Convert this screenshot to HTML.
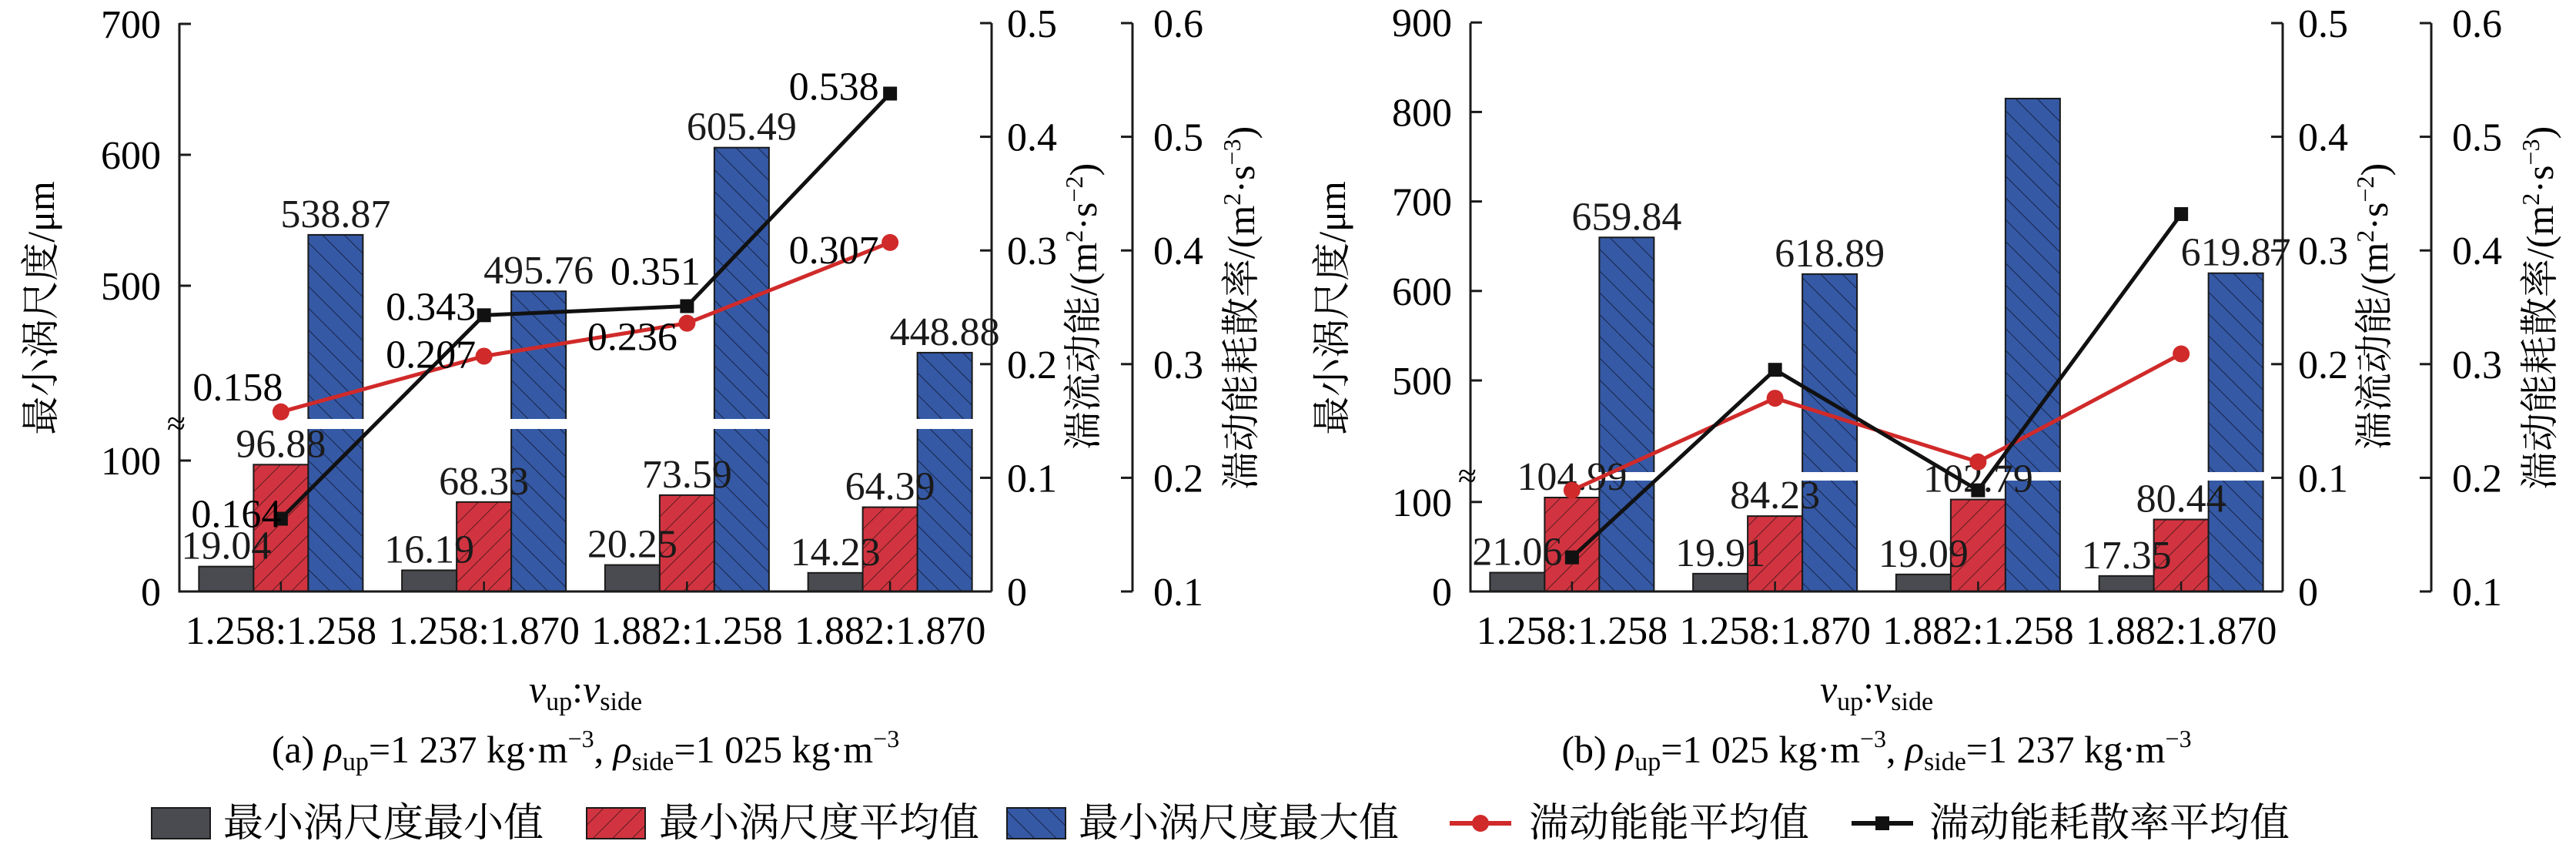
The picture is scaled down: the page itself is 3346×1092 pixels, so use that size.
<!DOCTYPE html>
<html><head><meta charset="utf-8"><style>
html,body{margin:0;padding:0;background:#fff;}
svg{display:block;font-family:"Liberation Serif","Noto Serif CJK SC",serif;}
.cjk{font-family:"Liberation Serif","Noto Serif CJK SC","Noto Sans CJK SC",serif;}
</style></head><body>
<svg id="chart" width="3346" height="1092" viewBox="0 0 3346 1092" xmlns="http://www.w3.org/2000/svg">
<defs>
<pattern id="hatchRed" patternUnits="userSpaceOnUse" width="18" height="18" patternTransform="rotate(45)"><rect width="18" height="18" fill="#d13440"/><line x1="0" y1="0" x2="0" y2="18" stroke="#3a1518" stroke-width="1.6"/></pattern>
<pattern id="hatchBlue" patternUnits="userSpaceOnUse" width="20" height="20" patternTransform="rotate(-45)"><rect width="20" height="20" fill="#3559a5"/><line x1="0" y1="0" x2="0" y2="20" stroke="#101830" stroke-width="1.6"/></pattern>
</defs>
<g id="layer"></g>
</svg>
<script>
const categories = ["1.258:1.258","1.258:1.870","1.882:1.258","1.882:1.870"];
const aMin = [19.04,16.19,20.25,14.23];
const aMean = [96.88,68.33,73.59,64.39];
const aMax = [538.87,495.76,605.49,448.88];
const aTke = [0.158,0.207,0.236,0.307];
const aDiss = [0.164,0.343,0.351,0.538];
const bMin = [21.06,19.91,19.09,17.35];
const bMean = [104.99,84.23,102.79,80.44];
const bMax = [659.84,618.89,815,619.87];
const bTke = [0.089,0.170,0.114,0.209];
const bDiss = [0.130,0.295,0.189,0.432];
const aLeftTicks = [0,100,500,600,700];
const bLeftTicks = [0,100,500,600,700,800,900];
const tkeTicks = [0,0.1,0.2,0.3,0.4,0.5];
const dissTicks = [0.1,0.2,0.3,0.4,0.5,0.6];

const NS="http://www.w3.org/2000/svg";
const layer=document.getElementById('layer');
function mk(tag,attrs,parent){const e=document.createElementNS(NS,tag);for(const a in attrs)e.setAttribute(a,attrs[a]);(parent||layer).appendChild(e);return e;}

function panel(cfg){
  const g=mk('g',{});
  
  
  const base=768, L=cfg.xL, R=cfg.xR;
  const k=cfg.k/100, y500=cfg.y500;
  const yLeft=v=> v<=cfg.lowMax ? base-v*k : y500-(v-500)*k;
  const yTke=v=> base-(v/0.1)*147.6;
  const yDiss=v=> base-((v-0.1)/0.1)*147.6;
  const gw=(R-L)/4;
  const cx=i=>L+gw*(i+0.5);
  const bw=71;
  const series=[[cfg.min,'#4a4b50','min-bar'],[cfg.mean,'url(#hatchRed)','mean-bar'],[cfg.max,'url(#hatchBlue)','max-bar']];
  series.forEach((s,si)=>{
    s[0].forEach((v,i)=>{
      const x=cx(i)+(si-1)*bw-bw/2;
      const y=yLeft(v);
      const r=mk('rect',{x:x,y:y,width:bw,height:base-y,fill:s[1],stroke:'#1a1a1a','stroke-width':2},g);
      
      
    });
  });
  cfg.max.forEach((v,i)=>{
    if(v>cfg.lowMax){
      const x=cx(i)+bw-bw/2;
      const band=mk('rect',{x:x-2,y:cfg.brTop,width:bw+4,height:cfg.brBot-cfg.brTop,fill:'#fff'},g);
      
      
    }
  });
  const ax=mk('path',{d:`M${L},30 V${base} H${R} M${R},30 V${base} M${cfg.x2},30 V${base}`,stroke:'#1a1a1a','stroke-width':3,fill:'none'},g);
  
  
  const brk=mk('text',{x:L-4,y:(cfg.brTop+cfg.brBot)/2+14,'font-size':44,'text-anchor':'middle'},g);
  brk.textContent='≈';
  
  
  cfg.leftTicks.forEach(v=>{
    const y=yLeft(v);
    mk('line',{x1:L,x2:L+15,y1:y,y2:y,stroke:'#1a1a1a','stroke-width':3},g);
    const t=mk('text',{x:L-24,y:y+18,'font-size':52,'text-anchor':'end'},g);
    t.textContent=v;
    
    
  });
  tkeTicks.forEach(v=>{
    const y=yTke(v);
    mk('line',{x1:R-15,x2:R,y1:y,y2:y,stroke:'#1a1a1a','stroke-width':3},g);
    const t=mk('text',{x:R+20,y:y+18,'font-size':52},g);
    t.textContent=String(v);
    
    
  });
  dissTicks.forEach(v=>{
    const y=yDiss(v);
    mk('line',{x1:cfg.x2-15,x2:cfg.x2,y1:y,y2:y,stroke:'#1a1a1a','stroke-width':3},g);
    const t=mk('text',{x:cfg.x2+27,y:y+18,'font-size':52},g);
    t.textContent=v.toFixed(1);
    
    
  });
  categories.forEach((c,i)=>{
    mk('line',{x1:cx(i),x2:cx(i),y1:base,y2:base-13,stroke:'#1a1a1a','stroke-width':2.5},g);
    const t=mk('text',{x:cx(i),y:836,'font-size':52,'text-anchor':'middle'},g);
    t.textContent=c;
    
    
  });
  series.forEach((s,si)=>{
    s[0].forEach((v,i)=>{
      if(cfg.hideLabel && si===2 && i===cfg.hideLabel-1) return;
      const t=mk('text',{x:cx(i)+(si-1)*bw,y:yLeft(v)-10,'font-size':52,'text-anchor':'middle',fill:'#1a1a1a'},g);
      t.textContent=v.toFixed(2);
      
      
    });
  });
  const lines=[[cfg.tke,yTke,'#d02a2a','tke'],[cfg.diss,yDiss,'#111','dissipation']];
  lines.forEach(ls=>{
    const pts=ls[0].map((v,i)=>cx(i)+','+ls[1](v)).join(' ');
    const pl=mk('polyline',{points:pts,fill:'none',stroke:ls[2],'stroke-width':5},g);
    
    
    ls[0].forEach((v,i)=>{
      const y=ls[1](v);
      let m;
      if(ls[3]==='tke') m=mk('circle',{cx:cx(i),cy:y,r:11,fill:ls[2]},g);
      else m=mk('rect',{x:cx(i)-9,y:y-9,width:18,height:18,fill:ls[2]},g);
      
      
    });
  });
  if(cfg.lineLabels){
    const offT=[[-56,-33],[-69,-3],[-71,17],[-73,9]];
    const offD=[[-58,-7],[-69,-12],[-41,-46],[-73,-10]];
    cfg.tke.forEach((v,i)=>{
      const t=mk('text',{x:cx(i)+offT[i][0],y:yTke(v)+offT[i][1]+18,'font-size':52,'text-anchor':'middle'},g);
      t.textContent=v.toFixed(3);
      
      
    });
    cfg.diss.forEach((v,i)=>{
      const t=mk('text',{x:cx(i)+offD[i][0],y:yDiss(v)+offD[i][1]+18,'font-size':52,'text-anchor':'middle'},g);
      t.textContent=v.toFixed(3);
      
      
    });
  }
  const mid=(L+R)/2;
  const lt=mk('text',{transform:`translate(${cfg.ltx},400) rotate(-90)`,'font-size':50,'text-anchor':'middle',class:'cjk'},g);
  lt.textContent='最小涡尺度/μm';
  
  
  const r1=mk('text',{transform:`translate(${R+136},398) rotate(-90)`,'font-size':50,'text-anchor':'middle',class:'cjk'},g);
  r1.innerHTML='湍流动能/(m<tspan dy="-18" font-size="32">2</tspan><tspan dy="18">·s</tspan><tspan dy="-18" font-size="32">−2</tspan><tspan dy="18">)</tspan>';
  
  
  const r2=mk('text',{transform:`translate(${cfg.x2+158},400) rotate(-90)`,'font-size':50,'text-anchor':'middle',class:'cjk'},g);
  r2.innerHTML='湍动能耗散率/(m<tspan dy="-18" font-size="32">2</tspan><tspan dy="18">·s</tspan><tspan dy="-18" font-size="32">−3</tspan><tspan dy="18">)</tspan>';
  
  
  const xt=mk('text',{x:mid,y:912,'font-size':50,'text-anchor':'middle'},g);
  xt.innerHTML='<tspan font-style="italic">v</tspan><tspan font-size="34" dy="10">up</tspan><tspan dy="-10">:</tspan><tspan font-style="italic">v</tspan><tspan font-size="34" dy="10">side</tspan>';
  
  
  const cp=mk('text',{x:mid,y:990,'font-size':50,'text-anchor':'middle'},g);
  cp.innerHTML=cfg.caption;
  
  
}
panel({name:'panel-a',xL:233,xR:1288,x2:1471,k:170,y500:371,lowMax:130,brTop:544,brBot:557,
  min:aMin,mean:aMean,max:aMax,tke:aTke,diss:aDiss,leftTicks:aLeftTicks,lineLabels:true,ltx:70,
  caption:'(a) <tspan font-style="italic">ρ</tspan><tspan font-size="34" dy="10">up</tspan><tspan dy="-10">=1 237 kg·m</tspan><tspan font-size="32" dy="-20">−3</tspan><tspan dy="20">, </tspan><tspan font-style="italic">ρ</tspan><tspan font-size="34" dy="10">side</tspan><tspan dy="-10">=1 025 kg·m</tspan><tspan font-size="32" dy="-20">−3</tspan>'});
panel({name:'panel-b',xL:1910,xR:2965,x2:3158,k:116.2,y500:494,lowMax:140,brTop:613,brBot:624,
  min:bMin,mean:bMean,max:bMax,tke:bTke,diss:bDiss,leftTicks:bLeftTicks,lineLabels:false,ltx:1747,hideLabel:3,
  caption:'(b) <tspan font-style="italic">ρ</tspan><tspan font-size="34" dy="10">up</tspan><tspan dy="-10">=1 025 kg·m</tspan><tspan font-size="32" dy="-20">−3</tspan><tspan dy="20">, </tspan><tspan font-style="italic">ρ</tspan><tspan font-size="34" dy="10">side</tspan><tspan dy="-10">=1 237 kg·m</tspan><tspan font-size="32" dy="-20">−3</tspan>'});

const lg=mk('g',{});


const items=[
 ['box','#4a4b50',197,290,'最小涡尺度最小值','legend-min'],
 ['box','url(#hatchRed)',762,856,'最小涡尺度平均值','legend-mean'],
 ['box','url(#hatchBlue)',1308,1401,'最小涡尺度最大值','legend-max'],
 ['circle','#d02a2a',1883,1986,'湍动能能平均值','legend-tke'],
 ['square','#111',2405,2506,'湍动能耗散率平均值','legend-dissipation']];
items.forEach(it=>{
  const g=mk('g',{},lg);
  
  
  if(it[0]==='box') mk('rect',{x:it[2],y:1049,width:76,height:40,fill:it[1],stroke:'#1a1a1a','stroke-width':2},g);
  else{
    mk('line',{x1:it[2],x2:it[2]+80,y1:1069,y2:1069,stroke:it[1],'stroke-width':6},g);
    if(it[0]==='circle') mk('circle',{cx:it[2]+40,cy:1069,r:11,fill:it[1]},g);
    else mk('rect',{x:it[2]+31,y:1060,width:18,height:18,fill:it[1]},g);
  }
  const t=mk('text',{x:it[3],y:1086,'font-size':52,class:'cjk'},g);
  t.textContent=it[4];
});
</script>
</body></html>
